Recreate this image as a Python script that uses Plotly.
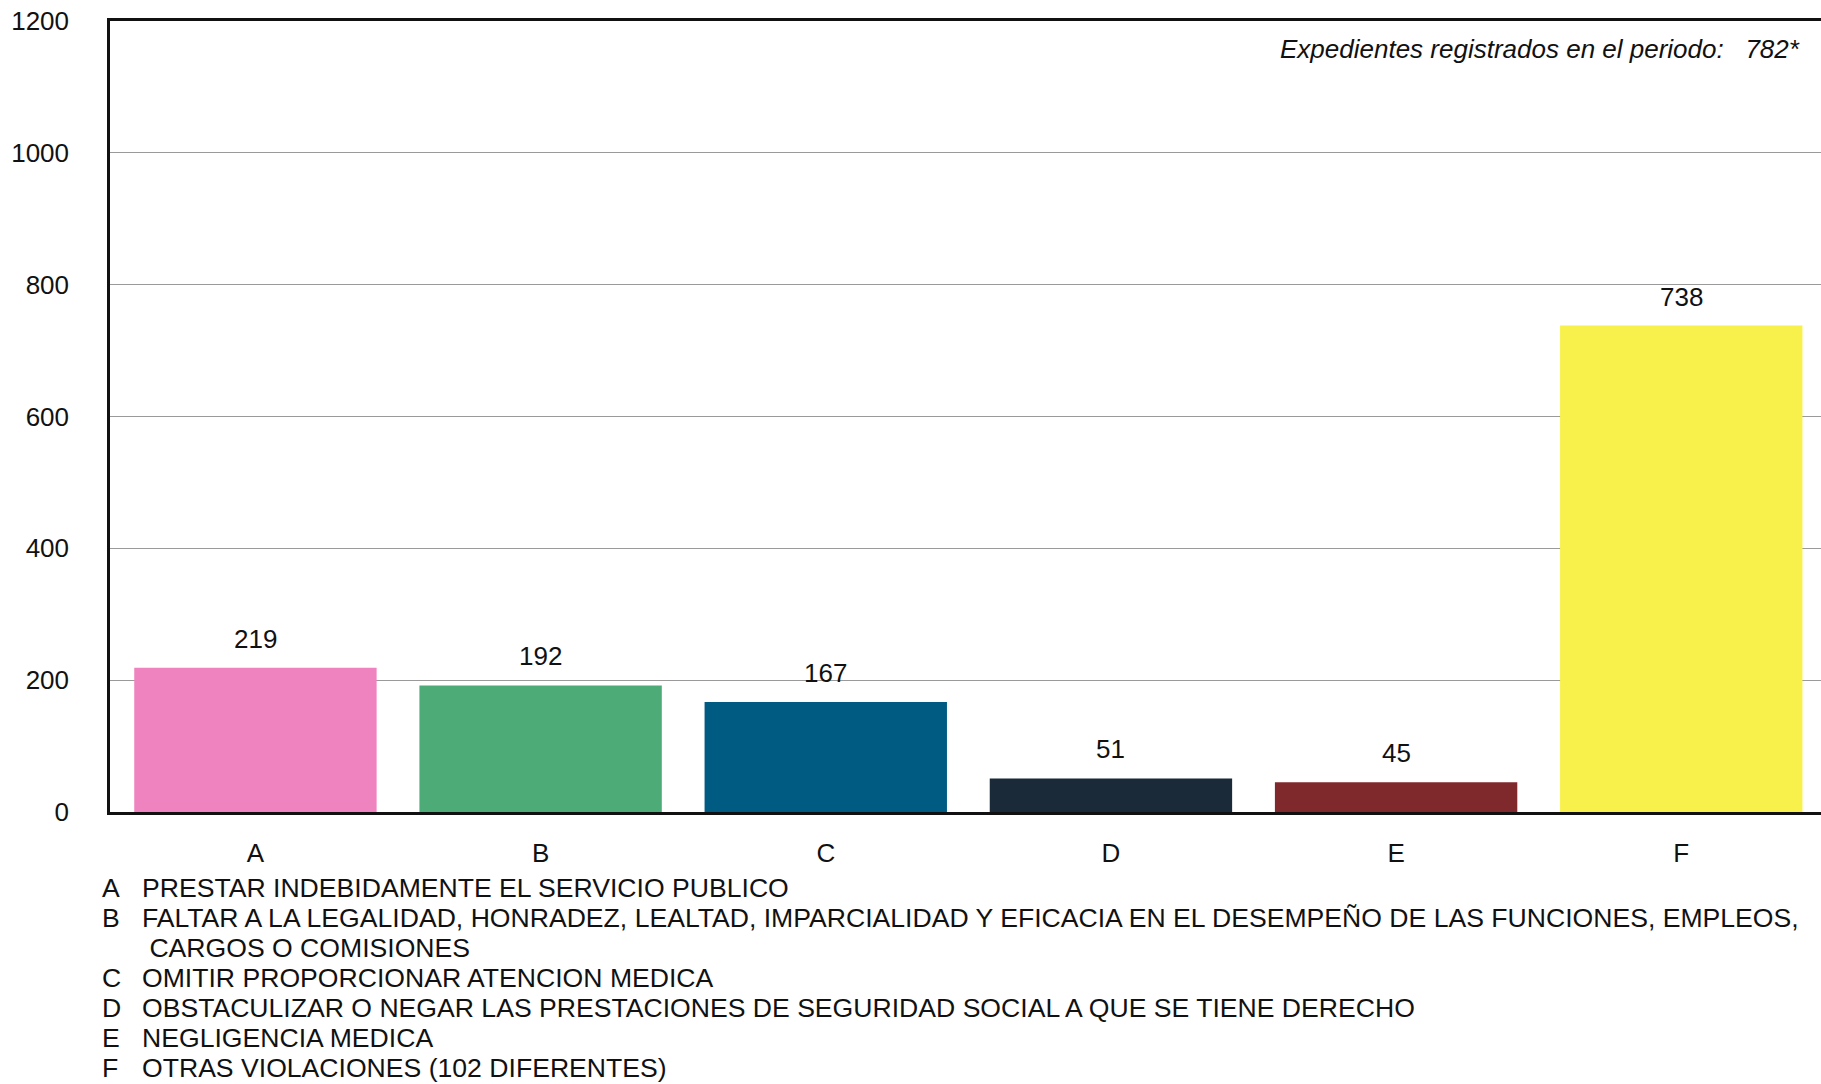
import plotly.graph_objects as go

# datos
categorias = ["A", "B", "C", "D", "E", "F"]
valores = [219, 192, 167, 51, 45, 738]
colores = ["#EF83BF", "#4DAB78", "#005B83", "#1B2A38", "#80292D", "#F8F14B"]
descripciones = [
    "PRESTAR INDEBIDAMENTE EL SERVICIO PUBLICO",
    "FALTAR A LA LEGALIDAD, HONRADEZ, LEALTAD, IMPARCIALIDAD Y EFICACIA EN EL DESEMPEÑO DE LAS FUNCIONES, EMPLEOS,<br> CARGOS O COMISIONES",
    "OMITIR PROPORCIONAR ATENCION MEDICA",
    "OBSTACULIZAR O NEGAR LAS PRESTACIONES DE SEGURIDAD SOCIAL A QUE SE TIENE DERECHO",
    "NEGLIGENCIA MEDICA",
    "OTRAS VIOLACIONES (102 DIFERENTES)",
]
ticks_y = [0, 200, 400, 600, 800, 1000, 1200]
nota = "Expedientes registrados en el periodo:   782*"

fuente = "Liberation Sans, Arial, sans-serif"

fig = go.Figure()
fig.add_trace(go.Bar(x=categorias, y=valores, marker=dict(color=colores, line=dict(width=0)),
                     width=0.85, hoverinfo="skip"))

# etiquetas de valor sobre las barras
for c, v in zip(categorias, valores):
    fig.add_annotation(x=c, y=v, text=str(v), showarrow=False, yanchor="bottom", yshift=12,
                       font=dict(size=26, color="#111"))

fig.add_annotation(xref="paper", yref="paper", x=0.989, y=0.9646, text="<i>" + nota + "</i>",
                   showarrow=False, xanchor="right", yanchor="middle", font=dict(size=26, color="#111"))

# leyenda de descripciones debajo del eje (una anotacion por renglon)
y0 = 812
alto = 791
fila = 888
for c, d in zip(categorias, descripciones):
    fig.add_annotation(xref="paper", yref="paper", x=-10 / 1711, y=(y0 - fila) / alto, text=c,
                       showarrow=False, xanchor="left", yanchor="middle", font=dict(size=26.6, color="#111"))
    for renglon in d.split("<br>"):
        fig.add_annotation(xref="paper", yref="paper", x=30 / 1711, y=(y0 - fila) / alto, text=renglon,
                           showarrow=False, xanchor="left", yanchor="middle", align="left",
                           font=dict(size=26.6, color="#111"))
        fila += 30

fig.update_layout(
    width=1821, height=1084,
    margin=dict(l=110, r=0, t=21, b=272),
    paper_bgcolor="white", plot_bgcolor="white",
    font=dict(family=fuente, size=26, color="#111"),
    showlegend=False,
    xaxis=dict(range=[-0.51, 5.49], showline=True, linecolor="#111", linewidth=2.5, mirror=True,
               ticks="", ticklabelstandoff=16, showgrid=False, tickfont=dict(size=26)),
    yaxis=dict(range=[0, 1200], tickvals=ticks_y, showline=True, linecolor="#111", linewidth=2.5,
               showgrid=True, gridcolor="#9a9a9a", gridwidth=1, zeroline=False,
               ticklabelstandoff=33, tickfont=dict(size=26)),
)

# sin margen del body para que la figura ocupe toda la ventana
fig.write_html("out.html", config={"displayModeBar": False},
               post_script="document.body.style.margin='0';")
